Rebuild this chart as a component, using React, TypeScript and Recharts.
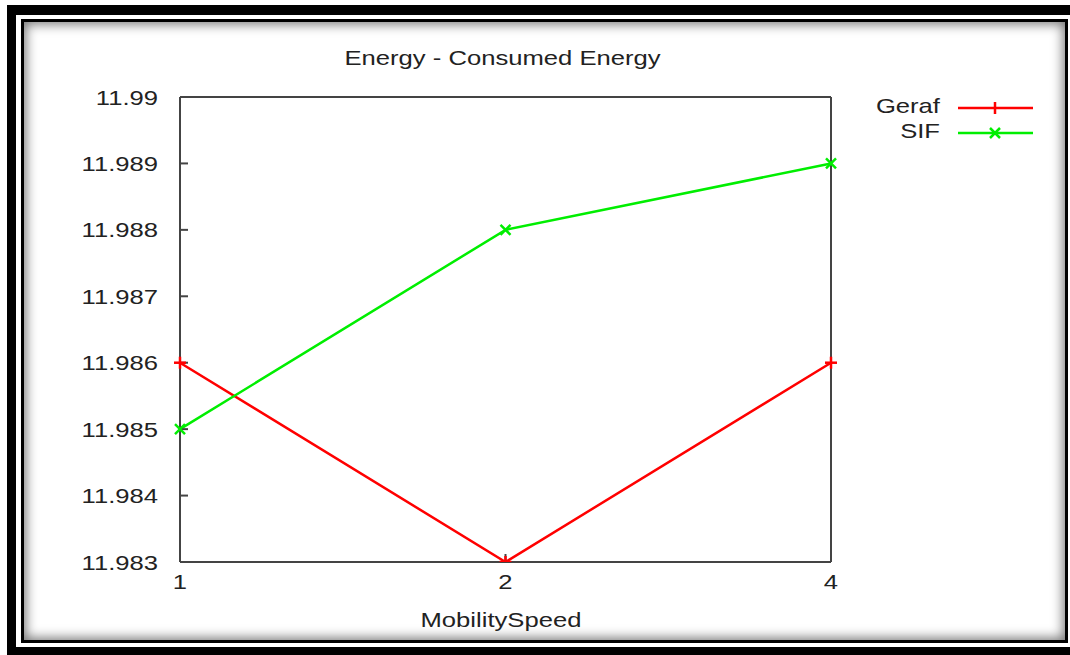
import { LineChart, Line, XAxis, YAxis } from "recharts";

const speeds = ["1", "2", "4"];
const geraf = [11.986, 11.983, 11.986];
const sif = [11.985, 11.988, 11.989];
const yTicks = [11.983, 11.984, 11.985, 11.986, 11.987, 11.988, 11.989, 11.99];

const data = speeds.map((s, i) => ({ speed: s, Geraf: geraf[i], SIF: sif[i] }));

const RED = "#ff0000";
const GREEN = "#00ee00";
const AXIS = "#444";
const TXT = "#222";
const FONT = "'Liberation Sans', Arial, sans-serif";
const FS = 21;
const SX = 1.22; // the source picture is stretched sideways

// gnuplot style markers
const PlusDot = (props: any) => {
  const { cx, cy } = props;
  if (cx == null || cy == null) return null;
  return (
    <g>
      <line x1={cx - 6} y1={cy} x2={cx + 6} y2={cy} stroke={RED} strokeWidth={2.5} />
      <line x1={cx} y1={cy - 6} x2={cx} y2={cy + 6} stroke={RED} strokeWidth={2.5} />
    </g>
  );
};

const CrossDot = (props: any) => {
  const { cx, cy } = props;
  if (cx == null || cy == null) return null;
  return (
    <g>
      <line x1={cx - 5} y1={cy - 5} x2={cx + 5} y2={cy + 5} stroke={GREEN} strokeWidth={2.5} />
      <line x1={cx - 5} y1={cy + 5} x2={cx + 5} y2={cy - 5} stroke={GREEN} strokeWidth={2.5} />
    </g>
  );
};

const fmt = (v: number) => parseFloat(v.toFixed(3)).toString();

const YTick = (props: any) => {
  const { x, y, payload } = props;
  return (
    <text
      transform={`translate(${x},${y}) scale(${SX},1)`}
      textAnchor="end"
      dy="0.36em"
      fontSize={FS}
      fontFamily={FONT}
      fill={TXT}
    >
      {fmt(payload.value)}
    </text>
  );
};

const XTick = (props: any) => {
  const { x, y, payload } = props;
  return (
    <text
      transform={`translate(${x},${y}) scale(${SX},1)`}
      textAnchor="middle"
      dy="0.71em"
      fontSize={FS}
      fontFamily={FONT}
      fill={TXT}
    >
      {payload.value}
    </text>
  );
};

const stretched = { transform: `scaleX(${SX})`, fontFamily: FONT, fontSize: FS, color: TXT } as const;

const LegendBox = () => (
  <div style={{ position: "absolute", left: 840, top: 93 }}>
    <div style={{ position: "absolute", right: -100, top: 0, width: 200, textAlign: "right" }}>
      <div style={{ ...stretched, transformOrigin: "right center", lineHeight: "25px" }}>Geraf</div>
      <div style={{ ...stretched, transformOrigin: "right center", lineHeight: "25px" }}>SIF</div>
    </div>
    <svg style={{ position: "absolute", left: 117, top: 0 }} width={80} height={60}>
      <line x1={1} y1={15} x2={76} y2={15} stroke={RED} strokeWidth={2.5} />
      <line x1={38} y1={9} x2={38} y2={21} stroke={RED} strokeWidth={2.5} />
      <line x1={1} y1={40} x2={76} y2={40} stroke={GREEN} strokeWidth={2.5} />
      <line x1={33} y1={35} x2={43} y2={45} stroke={GREEN} strokeWidth={2.5} />
      <line x1={33} y1={45} x2={43} y2={35} stroke={GREEN} strokeWidth={2.5} />
    </svg>
  </div>
);

export default function App() {
  return (
    <div style={{ position: "fixed", left: 0, top: 0, width: 1070, height: 655, background: "#fff", overflow: "hidden" }}>
      {/* picture frame */}
      <div style={{ position: "absolute", left: 7, top: 5, width: 1080, height: 670, background: "#000" }} />
      <div style={{ position: "absolute", left: 16, top: 15, width: 1054, height: 632, background: "#fff" }} />
      <div
        style={{
          position: "absolute",
          left: 21,
          top: 19,
          width: 1047,
          height: 624,
          border: "3px solid #000",
          boxSizing: "border-box",
          background: "#fff",
          boxShadow: "inset 0 0 12px 2px rgba(0,0,0,0.55)",
        }}
      />
      <div style={{ position: "absolute", left: 0, width: 1006, top: 46, textAlign: "center" }}>
        <div style={{ ...stretched, display: "inline-block" }}>Energy - Consumed Energy</div>
      </div>
      <div style={{ position: "absolute", left: 0, width: 1002, top: 608, textAlign: "center" }}>
        <div style={{ ...stretched, display: "inline-block" }}>MobilitySpeed</div>
      </div>
      <LegendBox />
      <div style={{ position: "absolute", left: 0, top: 0 }}>
        <LineChart width={1070} height={655} data={data} margin={{ top: 96, right: 238, bottom: 33, left: 0 }}>
          <XAxis
            dataKey="speed"
            xAxisId="b"
            interval={0}
            tickSize={-8}
            tickMargin={20}
            height={60}
            stroke={AXIS}
            strokeWidth={2}
            tick={<XTick />}
          />
          <XAxis
            dataKey="speed"
            xAxisId="t"
            orientation="top"
            interval={0}
            tickSize={-6}
            height={1}
            tick={false}
            stroke={AXIS}
            strokeWidth={2}
          />
          <YAxis
            yAxisId="l"
            domain={[11.983, 11.99]}
            ticks={yTicks}
            tickSize={-8}
            tickMargin={30}
            width={180}
            stroke={AXIS}
            strokeWidth={2}
            allowDataOverflow
            tick={<YTick />}
          />
          <YAxis
            yAxisId="r"
            orientation="right"
            domain={[11.983, 11.99]}
            ticks={yTicks}
            tickSize={-8}
            width={1}
            tick={false}
            stroke={AXIS}
            strokeWidth={2}
            allowDataOverflow
          />
          <Line
            xAxisId="b"
            yAxisId="l"
            dataKey="Geraf"
            stroke={RED}
            strokeWidth={2.5}
            dot={<PlusDot />}
            activeDot={false}
            isAnimationActive={false}
          />
          <Line
            xAxisId="b"
            yAxisId="l"
            dataKey="SIF"
            stroke={GREEN}
            strokeWidth={2.5}
            dot={<CrossDot />}
            activeDot={false}
            isAnimationActive={false}
          />
          <Line
            xAxisId="t"
            yAxisId="r"
            dataKey="SIF"
            stroke="none"
            dot={false}
            activeDot={false}
            legendType="none"
            isAnimationActive={false}
          />
        </LineChart>
      </div>
    </div>
  );
}
